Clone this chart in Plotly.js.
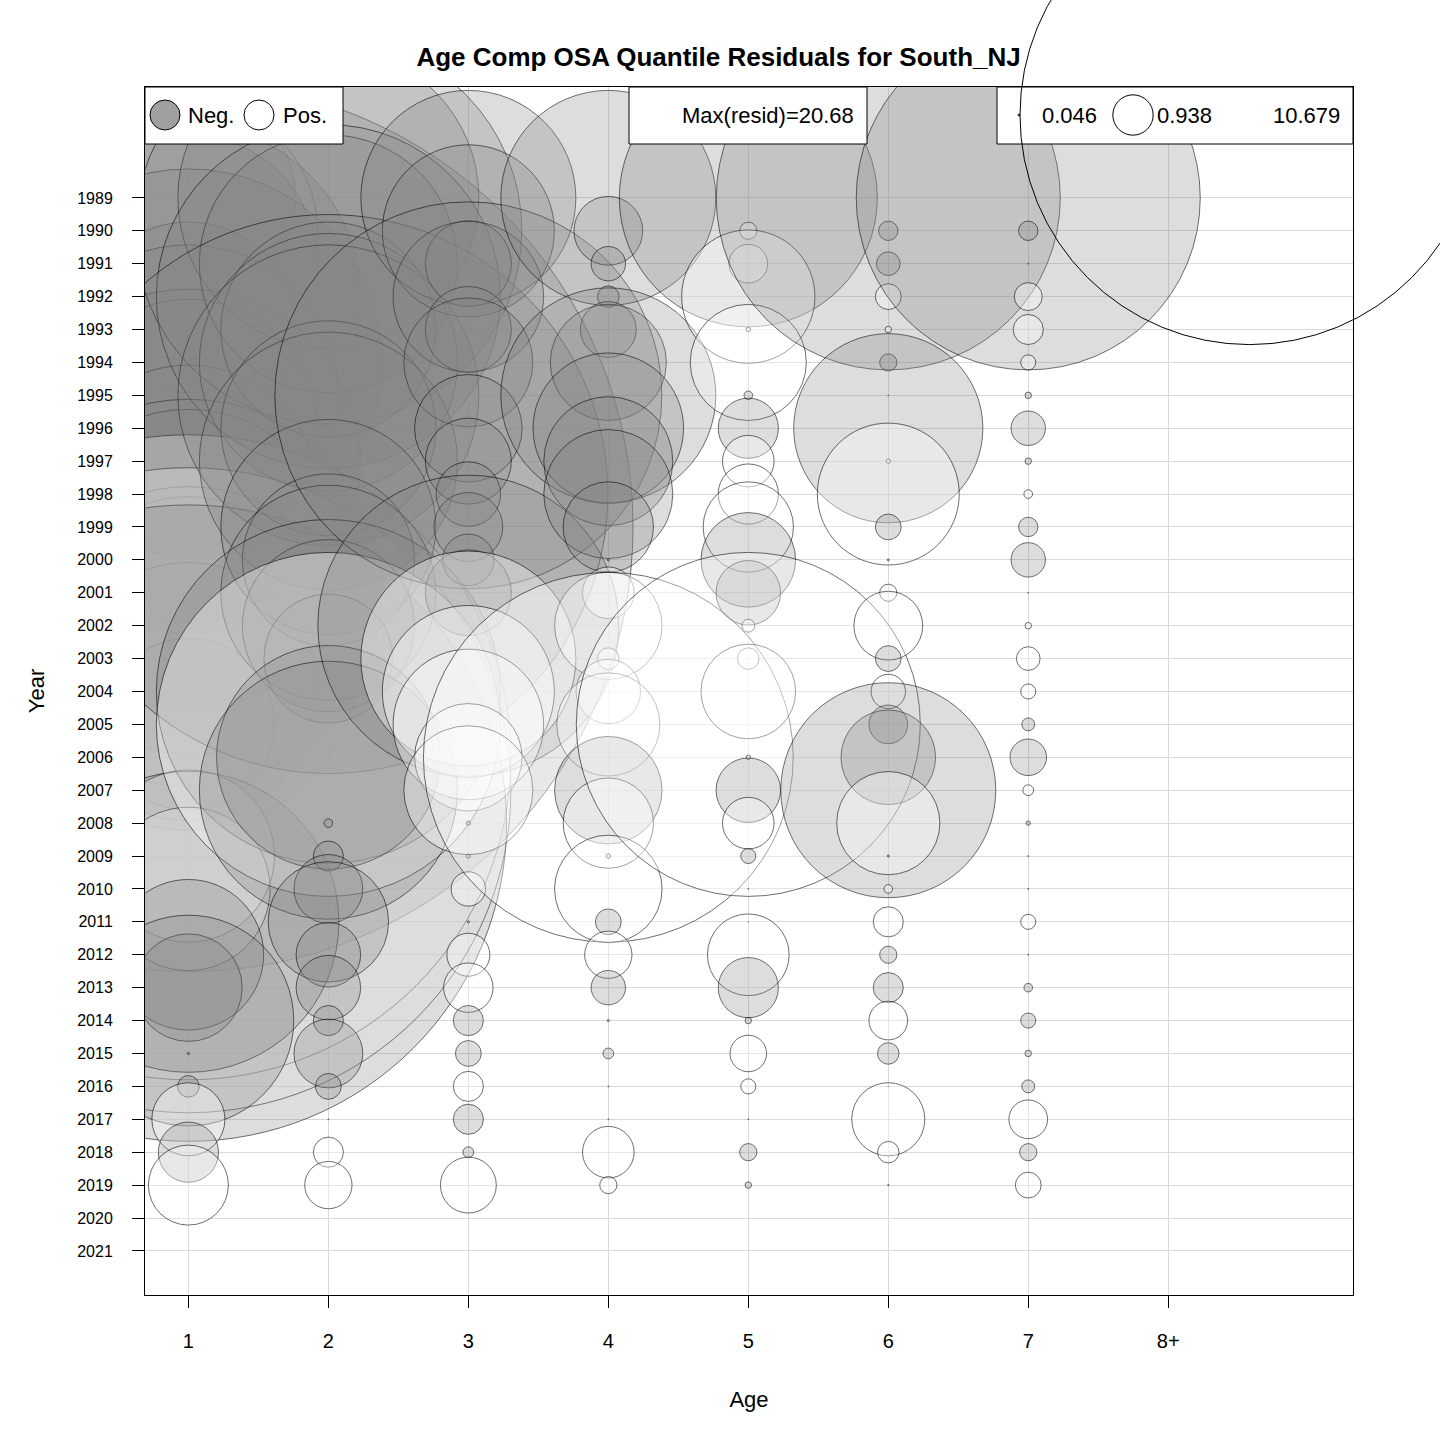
<!DOCTYPE html>
<html>
<head>
<meta charset="utf-8">
<script src="https://cdn.plot.ly/plotly-3.0.1.min.js"></script>
<style>body{margin:0;background:#fff}#plot{width:1440px;height:1440px}</style>
</head>
<body>
<div id="plot"></div>
<script>
// residuals by age, years 1989..2019 (rough)
const years = [];
for (let y = 1989; y <= 2019; y++) years.push(y);
const ageLabels = ['1', '2', '3', '4', '5', '6', '7', '8+'];

const age1 = [-5, 6, -6, -8, -5, -9, -7, -6, -8, -6, -20.68, -7, -9, -6, -8, -6, -4, 15, 15, -14.8, 4, 3.8, -7, -3.5, -2.5, -4.9, -0.05, -0.5, 1.7, -1.4, 1.86];
const age2 = [-7, -9, -6, -8, -5, -6, -7, -5, -6, -13, -5, -4, -5, -4, -3, -8, 8, -5.2, -6, -0.2, -0.7, -1.6, -2.8, -1.5, -1.5, -0.7, -1.6, -0.6, 0.02, 0.7, 1.1];
const age3 = [-5, -4, -2, -3.5, -2, -3, -9, -2.5, -2, -1.5, -1.6, -1.2, -2, -7, 5, 4, 3.5, 2.5, 3, -0.1, -0.1, 0.8, -0.05, 1.0, 1.15, -0.7, -0.6, 0.7, -0.7, -0.25, 1.3];
const age4 = [-5, -1.6, -0.8, -0.5, -1.3, -2.7, -5, -3.5, -3, -3, -2.1, -0.05, 1.2, 2.5, 0.5, 1.5, 2.4, 8.6, -2.5, 2.1, 0.1, 2.5, -0.6, 1.1, -0.8, -0.05, -0.25, 0.02, 0.02, 1.2, 0.4];
const age5 = [-6, 0.4, 0.9, 3.1, 0.1, 2.7, -0.2, -1.4, 1.2, 1.4, 2.1, -2.2, -1.5, 0.3, 0.5, 2.2, 8, 0.1, -1.5, 1.2, -0.35, 0.02, 0.02, 1.9, -1.4, -0.15, 0.85, 0.35, 0.02, -0.4, -0.15];
const age6 = [-8, -0.45, -0.55, 0.6, 0.15, -0.4, 0.02, -4.4, 0.1, 3.3, -0.6, -0.05, 0.4, 1.6, -0.6, 0.8, -0.9, -2.2, -5, 2.4, -0.05, 0.2, 0.7, -0.4, -0.7, 0.9, -0.5, 0.01, 1.7, 0.5, -0.03];
const age7 = [-8, -0.45, 0.02, 0.65, 0.7, 0.35, -0.15, -0.8, -0.15, 0.2, -0.45, -0.8, 0.02, 0.15, 0.55, 0.35, -0.3, -0.85, 0.25, -0.1, 0.01, 0.01, 0.35, 0.01, -0.2, -0.35, -0.15, -0.3, 0.9, -0.4, 0.6];

const legendVals = [0.046, 0.938, 10.679];
const maxResid = 20.68;

const pxPerUnit = 21.5; // circle radius in px per unit residual
const cols = [age1, age2, age3, age4, age5, age6, age7];

const xs = [], ys = [], sizes = [], fills = [];
cols.forEach((col, i) => {
	col.forEach((v, j) => {
		xs.push(i + 1);
		ys.push(years[j]);
		sizes.push(Math.max(2 * pxPerUnit * Math.abs(v), 1));
		fills.push(v < 0 ? 'rgba(135,135,135,0.4)' : 'rgba(255,255,255,0.5)');
	});
});

const data = [{
	x: xs, y: ys,
	type: 'scatter', mode: 'markers',
	marker: { size: sizes, sizemode: 'diameter', color: fills, line: { color: 'rgba(0,0,0,0.8)', width: 1 } },
	cliponaxis: true, hoverinfo: 'skip', showlegend: false
}];

// pixel -> paper helpers (plot area 145..1353 x 87..1295)
const px = v => (v - 145) / 1208;
const py = v => (1295 - v) / 1208;
const circ = (cx, cy, r, fill) => ({
	type: 'circle', xref: 'paper', yref: 'paper',
	x0: px(cx - r), x1: px(cx + r), y0: py(cy + r), y1: py(cy - r),
	fillcolor: fill, line: { color: 'black', width: 1 }
});
const box = (a, b) => ({
	type: 'rect', xref: 'paper', yref: 'paper',
	x0: px(a), x1: px(b), y0: py(144), y1: py(87),
	fillcolor: 'white', line: { color: 'black', width: 1 }
});

const r = v => pxPerUnit * v;
const shapes = [
	box(145, 343), box(629, 867), box(997, 1353),
	circ(165, 115, 15, 'rgba(150,150,150,0.9)'),
	circ(259, 115, 15, 'white'),
	circ(1019, 115, Math.max(r(legendVals[0]), 1), 'white'),
	circ(1133, 115, r(legendVals[1]), 'white'),
	circ(1020 + r(legendVals[2]), 115, r(legendVals[2]), 'rgba(0,0,0,0)')
];

const ann = (x, text, anchor) => ({
	xref: 'paper', yref: 'paper', x: px(x), y: py(116), yanchor: 'middle', text: text,
	showarrow: false, xanchor: anchor, font: { family: 'Arial', size: 22, color: 'black' }
});
const annotations = [
	ann(186, 'Neg.', 'left'), ann(281, 'Pos.', 'left'),
	ann(856, 'Max(resid)=' + maxResid, 'right'),
	ann(1040, String(legendVals[0]), 'left'),
	ann(1155, String(legendVals[1]), 'left'),
	ann(1342, String(legendVals[2]), 'right')
];

const layout = {
	width: 1440, height: 1440,
	margin: { l: 145, r: 87, t: 87, b: 145 },
	paper_bgcolor: 'white', plot_bgcolor: 'white',
	title: { text: '<b>Age Comp OSA Quantile Residuals for South_NJ</b>', x: 0.499, xanchor: 'center', y: 0.967, font: { family: 'Arial', size: 26, color: 'black' } },
	xaxis: {
		range: [0.69, 9.32], tickvals: [1, 2, 3, 4, 5, 6, 7, 8], ticktext: ageLabels,
		ticks: 'outside', ticklen: 12, tickcolor: 'black', showline: true, linecolor: 'black', mirror: true,
		ticklabelstandoff: 16,
		showgrid: true, gridcolor: '#d9d9d9', zeroline: false,
		tickfont: { family: 'Arial', size: 20, color: 'black' },
		title: { text: 'Age', font: { family: 'Arial', size: 22, color: 'black' }, standoff: 40 }
	},
	yaxis: {
		range: [2022.34, 1985.63], tickvals: years.concat([2020, 2021]),
		ticks: 'outside', ticklen: 12, tickcolor: 'black', showline: true, linecolor: 'black', mirror: true,
		ticklabelstandoff: 16,
		showgrid: true, gridcolor: '#d9d9d9', zeroline: false,
		tickfont: { family: 'Arial', size: 16, color: 'black' },
		title: { text: 'Year', font: { family: 'Arial', size: 22, color: 'black' }, standoff: 26 }
	},
	shapes: shapes,
	annotations: annotations
};

Plotly.newPlot('plot', data, layout, { displayModeBar: false, staticPlot: true });
</script>
</body>
</html>
